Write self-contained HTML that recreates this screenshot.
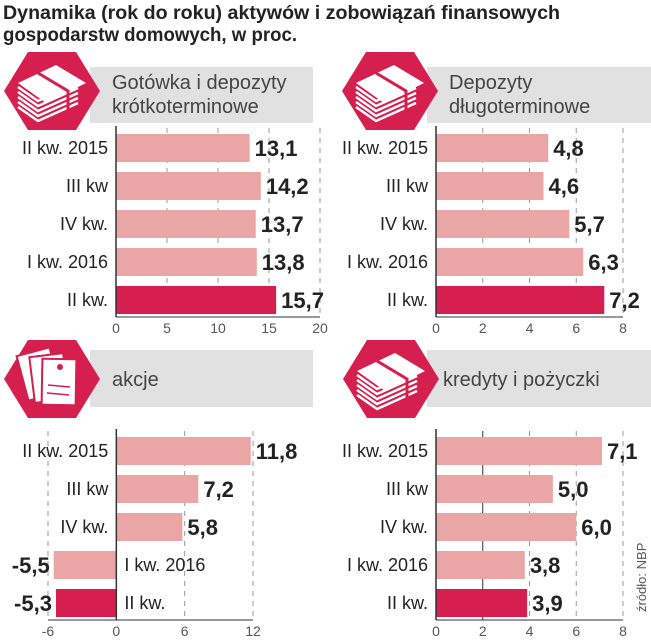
<!DOCTYPE html>
<html><head><meta charset="utf-8">
<style>
body{margin:0;background:#fff;}
svg{display:block;font-family:"Liberation Sans Narrow","Liberation Sans",sans-serif;}
</style></head><body>
<svg id="c" width="651" height="640" viewBox="0 0 651 640">
<text x="3" y="19" font-size="19" font-weight="bold" fill="#222" textLength="557" lengthAdjust="spacingAndGlyphs">Dynamika (rok do roku) aktywów i zobowiązań finansowych</text>
<text x="3" y="41" font-size="19" font-weight="bold" fill="#222" textLength="294" lengthAdjust="spacingAndGlyphs">gospodarstw domowych, w proc.</text>
<text transform="translate(646,612) rotate(-90)" font-size="13" fill="#555">źródło: NBP</text>
</svg>
<script>
const categories = ["II kw. 2015","III kw","IV kw.","I kw. 2016","II kw."];
const cashValues = [13.1,14.2,13.7,13.8,15.7];
const longDepValues = [4.8,4.6,5.7,6.3,7.2];
const stockValues = [11.8,7.2,5.8,-5.5,-5.3];
const loanValues = [7.1,5.0,6.0,3.8,3.9];
const cashTicks = [0,5,10,15,20];
const depTicks = [0,2,4,6,8];
const stockTicks = [-6,0,6,12];
const loanTicks = [0,2,4,6,8];

const NS="http://www.w3.org/2000/svg";
const svg=document.getElementById('c');
function mk(tag,attrs,parent){const e=document.createElementNS(NS,tag);for(const k in attrs)e.setAttribute(k,attrs[k]);(parent||svg).appendChild(e);return e;}
const fmt=v=>v.toFixed(1).replace('.',',');

function hexIcon(g,cx,cy,kind){
  const w=48,h=39;
  const p=mk('polygon',{points:`${cx-w},${cy} ${cx-w/2},${cy-h} ${cx+w/2},${cy-h} ${cx+w},${cy} ${cx+w/2},${cy+h} ${cx-w/2},${cy+h}`,fill:'#d41f4f'},g);
  
  
  if(kind==='money'){
    for(let i=0;i<5;i++) mk('path',{d:`M${cx-34} ${cy-4+i*5} l20 14 l40 -18`,stroke:'#fff','stroke-width':2.5,fill:'none'},g);
    mk('path',{d:`M${cx-34} ${cy-8} l38 -18 l30 18 l-40 20 z`,fill:'#fff'},g);
    mk('path',{d:`M${cx-14} ${cy-18} l30 18 l0 22`,stroke:'#d41f4f','stroke-width':3,fill:'none'},g);
  } else {
    for(let i=0;i<3;i++){
      mk('rect',{x:cx-30+i*10,y:cy-28+i*4,width:34,height:46,fill:'#fff',stroke:'#d41f4f','stroke-width':2,transform:`rotate(${-15+i*8} ${cx-13+i*10} ${cy-5+i*4})`},g);
    }
    mk('line',{x1:cx-4,y1:cy+6,x2:cx+18,y2:cy+8,stroke:'#d41f4f','stroke-width':1.5},g);
    mk('line',{x1:cx-5,y1:cy+14,x2:cx+17,y2:cy+16,stroke:'#d41f4f','stroke-width':1.5},g);
    mk('circle',{cx:cx+8,cy:cy-12,r:3,fill:'#d41f4f'},g);
  }
}

function panel(o){
  const g=mk('g',{});
  
  
  const band=mk('rect',{x:o.bandX,y:o.bandY,width:o.bandW,height:o.bandH,fill:'#e1e1e1'},g);
  
  
  hexIcon(g,o.hexX,o.hexY,o.icon);
  o.title.forEach((t,i)=>{
    const tx=mk('text',{x:o.bandX+(o.titleDx||22),y:o.titleY+i*24,'font-size':20,fill:'#444'},g);
    tx.textContent=t;
    
    
  });
  const min=o.ticks[0],max=o.ticks[o.ticks.length-1];
  const xs=v=>o.x0+(v-min)/(max-min)*(o.x1-o.x0);
  const yc=i=>o.yTop+i*38;
  const axBottom=yc(4)+17;
  o.ticks.forEach(t=>{
    const x=xs(t);
    if(t!==0){
      const gl=mk('line',{x1:x,y1:o.yTop-20,x2:x,y2:axBottom,stroke:o.solid===t?'#333':'#999','stroke-width':1,'stroke-dasharray':o.solid===t?'':'5,5'},g);
      
      
    }
    const tl=mk('text',{x:x,y:axBottom+16,'font-size':14,fill:'#555','text-anchor':'middle'},g);
    tl.textContent=t;
    
    
  });
  o.values.forEach((v,i)=>{
    const a=xs(Math.min(0,v)),b=xs(Math.max(0,v));
    const r=mk('rect',{x:a,y:yc(i)-14,width:b-a,height:28,fill:i===4?'#d41f4f':'#e9a6a4'},g);
    
    
    const vl=mk('text',{y:yc(i)+8,'font-size':22,'font-weight':'bold',fill:'#222'},g);
    vl.textContent=fmt(v);
    
    
    const cl=mk('text',{y:yc(i)+6,'font-size':18,fill:'#222'},g);
    cl.textContent=categories[i];
    
    
    if(v>=0){
      vl.setAttribute('x',b+5);
      cl.setAttribute('x',xs(0)-8);cl.setAttribute('text-anchor','end');
    } else {
      vl.setAttribute('x',a-4);vl.setAttribute('text-anchor','end');
      cl.setAttribute('x',xs(0)+8);
    }
  });
  const ax=mk('line',{x1:xs(0),y1:o.yTop-22,x2:xs(0),y2:axBottom,stroke:'#333','stroke-width':1.5},g);
  
  
  const bl=mk('line',{x1:xs(min),y1:axBottom,x2:xs(max),y2:axBottom,stroke:'#333','stroke-width':1},g);
  
  
}

panel({name:'panel-cash',values:cashValues,ticks:cashTicks,x0:116,x1:320,yTop:148,bandX:90,bandY:67,bandW:223,bandH:56,hexX:52,hexY:91,icon:'money',title:['Gotówka i depozyty','krótkoterminowe'],titleY:89});
panel({name:'panel-long-deposits',values:longDepValues,ticks:depTicks,x0:436,x1:623,yTop:148,bandX:427,bandY:67,bandW:224,bandH:56,hexX:390,hexY:91,icon:'money',title:['Depozyty','długoterminowe'],titleY:89,titleDx:22});
panel({name:'panel-stocks',values:stockValues,ticks:stockTicks,x0:48,x1:253,yTop:451,bandX:90,bandY:350,bandW:223,bandH:57,hexX:52,hexY:379,icon:'docs',title:['akcje'],titleY:386});
panel({name:'panel-loans',values:loanValues,ticks:loanTicks,x0:436,x1:623,yTop:451,bandX:427,bandY:350,bandW:224,bandH:57,hexX:391,hexY:379,icon:'money',title:['kredyty i pożyczki'],titleY:386,titleDx:16,solid:2});
</script>
</body></html>
